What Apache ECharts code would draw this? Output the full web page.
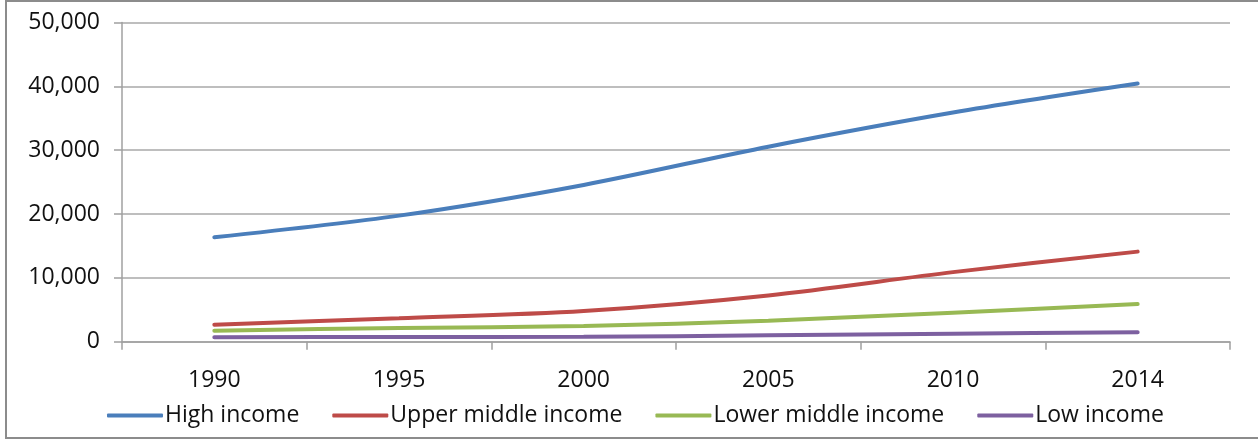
<!DOCTYPE html>
<html>
<head>
<meta charset="utf-8">
<script src="https://cdn.jsdelivr.net/npm/echarts@6/dist/echarts.min.js"></script>
<style>
html,body{margin:0;padding:0;background:#fff;}
#frame{position:absolute;left:5px;top:0px;width:1260px;height:435px;border:2px solid #8c8c8c;box-sizing:content-box;}
#chart{position:absolute;left:0;top:0;width:1258px;height:439px;}
</style>
</head>
<body>
<div id="frame"></div>
<div id="chart"></div>
<script>
const years = ['1990','1995','2000','2005','2010','2014'];
const seriesNames = ['High income','Upper middle income','Lower middle income','Low income'];
const highIncome = [16360, 19750, 24560, 30550, 35900, 40440];
const upperMiddle = [2660, 3670, 4810, 7250, 10900, 14110];
const lowerMiddle = [1720, 2150, 2460, 3290, 4550, 5910];
const lowIncome = [690, 740, 760, 1000, 1250, 1470];
const yTicks = [0, 10000, 20000, 30000, 40000, 50000];

const colors = ['#4a7ebb','#be4b48','#98b954','#7d60a0'];
const values = [highIncome, upperMiddle, lowerMiddle, lowIncome];
const font = '"Open Sans", Lato, sans-serif';

const chart = echarts.init(document.getElementById('chart'));
chart.setOption({
  animation:false,
  grid:{left:122,right:28,top:22.5,bottom:97.3,containLabel:false},
  legend:{
    data:seriesNames,
    left:102, top:399,
    icon:'roundRect', itemWidth:56, itemHeight:4, itemGap:33,
    textStyle:{fontFamily:font,fontSize:23,color:'#111',padding:[0,0,0,-3]}
  },
  xAxis:{
    type:'category', data:years, boundaryGap:true,
    axisLine:{lineStyle:{color:'#a0a0a0',width:1.5}},
    axisTick:{show:true,length:8,lineStyle:{color:'#a0a0a0',width:1.5}},
    axisLabel:{fontFamily:font,fontSize:23,color:'#111',margin:27}
  },
  yAxis:{
    type:'value', min:yTicks[0], max:yTicks[yTicks.length-1], interval:10000,
    axisLine:{show:true,lineStyle:{color:'#a0a0a0',width:1.5}},
    axisTick:{show:true,length:8,lineStyle:{color:'#a0a0a0',width:1.5}},
    splitLine:{lineStyle:{color:'#a8a8a8',width:1.5}},
    axisLabel:{fontFamily:font,fontSize:23,color:'#111',margin:22,
      formatter:v=>v.toLocaleString('en-US')}
  },
  series: seriesNames.map((n,i)=>({
    name:n, type:'line', data:values[i], smooth:0.3, symbol:'none',
    lineStyle:{color:colors[i],width:4,cap:'round'},
    itemStyle:{color:colors[i]}
  }))
});
</script>
</body>
</html>
